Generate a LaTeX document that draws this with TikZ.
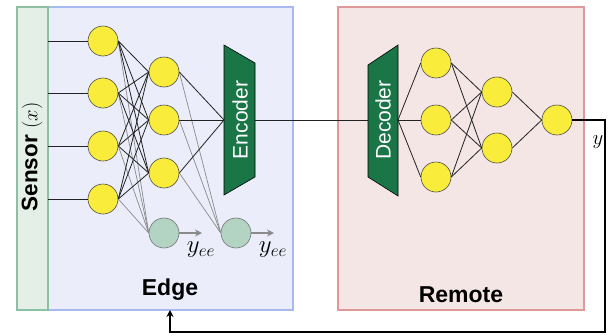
\documentclass[tikz,border=0pt]{standalone}
\usepackage{fontspec}
\setsansfont{Liberation Sans}
\usetikzlibrary{arrows.meta}
\definecolor{nyellow}{HTML}{F9EC3A}
\definecolor{ngrey}{HTML}{B3D4C3}
\definecolor{encgreen}{HTML}{1A7547}
\definecolor{sensfill}{HTML}{E4EFE8}
\definecolor{sensdraw}{HTML}{8DC0A3}
\definecolor{edgefill}{HTML}{EBEEFA}
\definecolor{edgedraw}{HTML}{A7B9EE}
\definecolor{remfill}{HTML}{F5E6E6}
\definecolor{remdraw}{HTML}{E09999}
\definecolor{wire}{HTML}{222222}
\definecolor{gwire}{HTML}{8A8A8A}
\tikzset{
  neuron/.style={circle,draw=black!70,fill=nyellow,minimum size=30pt,inner sep=0pt,line width=0.6pt},
  exitn/.style={circle,draw=black!55,fill=ngrey,minimum size=30pt,inner sep=0pt,line width=0.6pt},
  wireb/.style={draw=wire,line width=0.8pt},
  wireg/.style={draw=gwire,line width=0.7pt},
  codec/.style={fill=encgreen,draw=black,line width=0.6pt},
  codectext/.style={text=white,font=\sffamily\fontsize{21}{21}\selectfont,rotate=90},
  boxlabel/.style={font=\sffamily\bfseries\fontsize{23}{23}\selectfont},
  mathlab/.style={font=\fontsize{21}{21}\selectfont},
  eelab/.style={font=\fontsize{25}{25}\selectfont,inner sep=0pt},
}
\begin{document}
\begin{tikzpicture}[x=1pt,y=-1pt]
\useasboundingbox (0,0) rectangle (611,335);
% boxes
\draw[fill=edgefill,draw=edgedraw,line width=1.3pt] (48,7) rectangle (293,310);
\draw[fill=sensfill,draw=sensdraw,line width=1.3pt] (17,7) rectangle (48,310);
\draw[fill=remfill,draw=remdraw,line width=1.3pt] (338,7) rectangle (584,310);
\node[rotate=90,font=\sffamily\bfseries\fontsize{22.5}{22.5}\selectfont] (sensor) at (32,157) {Sensor $(x)$};
\node[boxlabel] (edgelab) at (170,290) {Edge};
\node[boxlabel] (remlab) at (461,295) {Remote};
% edge layer 1
\foreach \i/\y in {1/41,2/93,3/146,4/199}{
  \coordinate (s\i) at (48,\y);
  \node[neuron] (a\i) at (103,\y) {};
  \draw[wireb] (s\i) -- (a\i);
}
\foreach \i/\y in {1/72,2/120,3/173}{
  \node[neuron] (b\i) at (164,\y) {};
}
\node[exitn] (g1) at (164,233) {};
\node[exitn] (g2) at (236,233) {};
% encoder
\draw[codec] (224,45) -- (255,63) -- (255,177) -- (224,195) -- cycle;
\node[codectext] (enc) at (240,120) {Encoder};
\coordinate (encin) at (224,120);
\coordinate (encout) at (255,120);
% connections
\foreach \i in {1,2,3,4}{
  \draw[wireg] (a\i.east) -- (g1.west);
}
\foreach \j in {1,2,3}{
  \draw[wireg] (b\j.east) -- (g2.west);
}
\foreach \i in {1,2,3,4}{
  \foreach \j in {1,2,3}{
    \draw[wireb] (a\i.east) -- (b\j.west);
  }
}
\foreach \j in {1,2,3}{
  \draw[wireb] (b\j.east) -- (encin);
}
\coordinate (g1t) at (202,233);
\coordinate (g2t) at (274,233);
\draw[wireg,line width=1.2pt,-{Stealth[length=7pt,width=7pt]}] (g1.east) -- (g1t);
\draw[wireg,line width=1.2pt,-{Stealth[length=7pt,width=7pt]}] (g2.east) -- (g2t);
\node[eelab] (y1) at (201,250) {$y_{ee}$};
\node[eelab] (y2) at (273,250) {$y_{ee}$};
% decoder
\draw[codec] (368,65) -- (398,45) -- (398,196) -- (368,177) -- cycle;
\node[codectext] (dec) at (383,120) {Decoder};
\coordinate (decin) at (368,120);
\coordinate (decout) at (398,120);
\draw[wireb] (encout) -- (decin);
\foreach \i/\y in {1/63,2/120,3/177}{
  \node[neuron] (c\i) at (436,\y) {};
  \draw[wireb] (decout) -- (c\i.west);
}
\foreach \j/\y in {1/92,2/148}{
  \node[neuron] (d\j) at (497,\y) {};
}
\node[neuron] (out) at (557,120) {};
\foreach \i in {1,2,3}{
  \foreach \j in {1,2}{
    \draw[wireb] (c\i.east) -- (d\j.west);
  }
}
\foreach \j in {1,2}{
  \draw[wireb] (d\j.east) -- (out.west);
}
% feedback
\coordinate (fb1) at (605,120);
\coordinate (fb2) at (605,332);
\coordinate (fb3) at (170,332);
\coordinate (fbend) at (170,310);
\draw[draw=black,line width=1.2pt,-{Stealth[length=7pt,width=7pt]}] (out.east) -- (fb1) -- (fb2) -- (fb3) -- (fbend);
\node[mathlab] (ylab) at (598,142) {$y$};
\end{tikzpicture}
\end{document}
